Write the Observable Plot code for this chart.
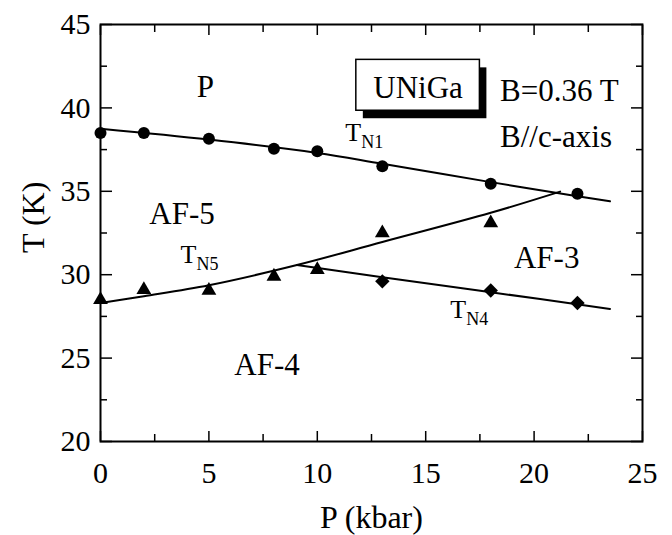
<!DOCTYPE html>
<html>
<head>
<meta charset="utf-8">
<script src="https://cdn.jsdelivr.net/npm/d3@7"></script>
<script src="https://cdn.jsdelivr.net/npm/@observablehq/plot@0.6"></script>
<style>
  html, body { margin: 0; padding: 0; background: #fff; }
</style>
</head>
<body>
<div id="chart"></div>
<script>
// measured points
const tn1P = [0, 2, 5, 8, 10, 13, 18, 22];
const tn1T = [38.5, 38.5, 38.15, 37.55, 37.4, 36.5, 35.45, 34.85];
const tn5P = [0, 2, 5, 8, 10, 13, 18];
const tn5T = [28.5, 29.1, 29.05, 29.9, 30.3, 32.5, 33.1];
const tn4P = [13, 18, 22];
const tn4T = [29.6, 29.05, 28.3];

// guide curves drawn through the data
const fitN1P = [0, 5, 10, 13, 18, 22, 23.5];
const fitN1T = [38.75, 38.1, 37.3, 36.65, 35.55, 34.7, 34.4];
const fitN5P = [0, 2, 5, 9.06, 13, 18, 21.2];
const fitN5T = [28.3, 28.71, 29.37, 30.58, 31.96, 33.71, 34.98];
const fitN4P = [9.06, 13, 18, 23.5];
const fitN4T = [30.58, 29.85, 28.95, 27.95];

// axis ticks
const xMajor = [0, 5, 10, 15, 20, 25];
const xMinor = [2.5, 7.5, 12.5, 17.5, 22.5];
const yMajor = [20, 25, 30, 35, 40, 45];
const yMinor = [22.5, 27.5, 32.5, 37.5, 42.5];

// annotations
const phaseLabels = ["P", "AF-5", "AF-4", "AF-3"];
const phaseX = [4.84, 3.76, 7.68, 20.58];
const phaseY = [40.63, 33.02, 24.01, 30.41];
const phaseAnchor = ["middle", "start", "start", "start"];
const tLabels = ["T", "T", "T"];
const tSubs = ["N1", "N5", "N4"];
const tX = [11.29, 3.69, 16.13];
const tY = [38.03, 30.72, 27.41];
const infoLines = ["B=0.36 T", "B//c-axis"];
const infoX = [18.43, 18.43];
const infoY = [40.43, 37.63];
const sampleName = ["UNiGa"];
const boxX1 = [11.8], boxX2 = [17.5], boxY1 = [39.83], boxY2 = [42.88];

const zip = (xs, ys) => xs.map((x, i) => ({x, y: ys[i]}));
const phases = phaseLabels.map((t, i) => ({t, x: phaseX[i], y: phaseY[i], a: phaseAnchor[i]}));
const tl = tLabels.map((t, i) => ({t, s: tSubs[i], x: tX[i], y: tY[i]}));
const info = infoLines.map((t, i) => ({t, x: infoX[i], y: infoY[i]}));
const box = [{x1: boxX1[0], x2: boxX2[0], y1: boxY1[0], y2: boxY2[0], t: sampleName[0]}];

const font = "Times New Roman";
const ax = {label: null, strokeWidth: 1.5, fontSize: 30, fontFamily: font};

const chart = Plot.plot({
  width: 672,
  height: 535,
  marginLeft: 100,
  marginRight: 30,
  marginTop: 24,
  marginBottom: 94,
  style: "font-family: 'Times New Roman', 'Liberation Serif', serif; font-size: 30px; color: black; background: white;",
  x: {domain: [0, 25]},
  y: {domain: [20, 45]},
  marks: [
    // ticks (inward) on all four sides
    Plot.axisX({...ax, anchor: "bottom", ticks: xMajor, tickSize: -10, tickPadding: 30, tickFormat: d => d}),
    Plot.axisX({...ax, anchor: "bottom", ticks: xMinor, tickSize: -7, tickFormat: () => ""}),
    Plot.axisX({...ax, anchor: "top", ticks: xMajor, tickSize: -10, tickFormat: () => ""}),
    Plot.axisX({...ax, anchor: "top", ticks: xMinor, tickSize: -7, tickFormat: () => ""}),
    Plot.axisY({...ax, anchor: "left", ticks: yMajor, tickSize: -12, tickPadding: 22, tickFormat: d => d}),
    Plot.axisY({...ax, anchor: "left", ticks: yMinor, tickSize: -7, tickFormat: () => ""}),
    Plot.axisY({...ax, anchor: "right", ticks: yMajor, tickSize: -12, tickFormat: () => ""}),
    Plot.axisY({...ax, anchor: "right", ticks: yMinor, tickSize: -7, tickFormat: () => ""}),
    Plot.frame({stroke: "black", strokeWidth: 2}),
    // axis titles
    Plot.text(["P (kbar)"], {frameAnchor: "bottom", dy: 86, lineAnchor: "bottom", fontSize: 32, fontFamily: font, fill: "black"}),
    Plot.text(["T (K)"], {frameAnchor: "left", dx: -57, dy: 20, rotate: -90, lineAnchor: "bottom", fontSize: 32, fontFamily: font, fill: "black"}),
    // guide curves
    Plot.line(zip(fitN1P, fitN1T), {x: "x", y: "y", curve: "catmull-rom", stroke: "black", strokeWidth: 2}),
    Plot.line(zip(fitN5P, fitN5T), {x: "x", y: "y", curve: "catmull-rom", stroke: "black", strokeWidth: 2}),
    Plot.line(zip(fitN4P, fitN4T), {x: "x", y: "y", curve: "catmull-rom", stroke: "black", strokeWidth: 2}),
    // data points
    Plot.dot(zip(tn1P, tn1T), {x: "x", y: "y", symbol: "circle", r: 6, fill: "black", stroke: "none"}),
    Plot.dot(zip(tn5P, tn5T), {x: "x", y: "y", symbol: "triangle", r: 5.5, fill: "black", stroke: "none"}),
    Plot.dot(zip(tn4P, tn4T), {x: "x", y: "y", symbol: "diamond2", r: 6.5, fill: "black", stroke: "none"}),
    // sample box with shadow
    Plot.rect(box, {x1: "x1", x2: "x2", y1: "y1", y2: "y2", fill: "black", dx: 7, dy: 8}),
    Plot.rect(box, {x1: "x1", x2: "x2", y1: "y1", y2: "y2", fill: "white", stroke: "black", strokeWidth: 1.5}),
    Plot.text(box, {x: d => (d.x1 + d.x2) / 2, y: d => d.y1, text: "t", dy: -13, lineAnchor: "bottom", fontSize: 31, fontFamily: font, fill: "black"}),
    // labels
    Plot.text(phases, {x: "x", y: "y", text: "t", textAnchor: d => d.a, lineAnchor: "bottom", fontSize: 31, fontFamily: font, fill: "black"}),
    Plot.text(info, {x: "x", y: "y", text: "t", textAnchor: "start", lineAnchor: "bottom", fontSize: 31, fontFamily: font, fill: "black"}),
    Plot.text(tl, {x: "x", y: "y", text: "t", textAnchor: "start", lineAnchor: "bottom", fontSize: 26, fontFamily: font, fill: "black"}),
    Plot.text(tl, {x: "x", y: "y", text: "s", textAnchor: "start", lineAnchor: "bottom", fontSize: 18, fontFamily: font, dx: 16, dy: 7, fill: "black"})
  ]
});
document.getElementById("chart").appendChild(chart);
</script>
</body>
</html>
